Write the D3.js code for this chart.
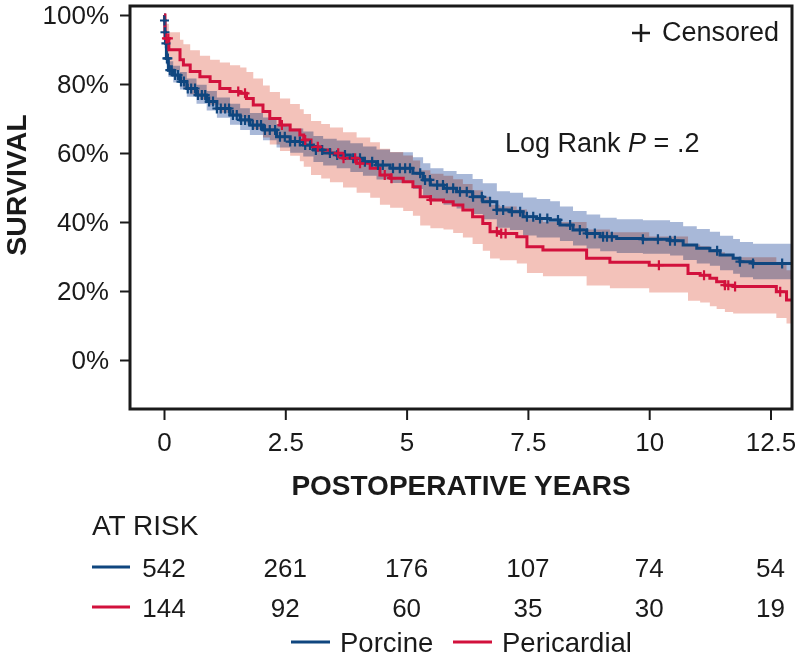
<!DOCTYPE html>
<html><head><meta charset="utf-8">
<script src="https://cdn.jsdelivr.net/npm/d3@7"></script>
<style>
html,body{margin:0;padding:0;background:#fff;}
svg{display:block;font-family:"Liberation Sans", Arial, Helvetica, sans-serif;}
</style></head><body>
<svg id="chart" width="795" height="660"></svg>
<script>
// ---------- DATA ----------
const xTicks = [0, 2.5, 5, 7.5, 10, 12.5];
const yTicks = [0, 20, 40, 60, 80, 100];
const seriesNames = ["Porcine", "Pericardial"];
const followUpEnd = 13.0;

const porcineTime  = [0, 0.01, 0.02, 0.03, 0.05, 0.09, 0.19, 0.33, 0.47, 0.67, 0.88, 1.09, 1.36, 1.57, 1.77, 2.04, 2.32, 2.6, 2.87, 3.08, 3.28, 3.56, 3.84, 4.1, 4.38, 4.66, 5.13, 5.34, 5.49, 5.76, 6.03, 6.36, 6.57, 6.86, 7.13, 7.4, 7.68, 7.96, 8.16, 8.43, 8.71, 8.99, 9.33, 9.87, 10.43, 10.7, 10.98, 11.25, 11.46, 11.73, 11.87, 12.14];
const porcineSurv  = [100, 98.4, 95, 91.8, 87.4, 84, 82.6, 80.7, 78.7, 76.8, 74.9, 72.9, 71, 69.6, 68.1, 66.7, 64.7, 63.3, 62.3, 60.9, 60, 59.4, 58.5, 57.5, 56.5, 55.6, 54.1, 52.2, 50.7, 49.8, 48.8, 47.3, 45.9, 43.5, 43, 41.5, 41, 40.6, 39.1, 37.7, 36.7, 35.7, 35.2, 35, 34.6, 33.3, 32.4, 31.7, 30.4, 29.5, 28.5, 28];
const porcineLower = [100, 97.4, 93.6, 90.2, 85.6, 82, 80.4, 78.4, 76.3, 74.3, 72.3, 70.2, 68.2, 66.7, 65.2, 63.7, 61.6, 60.1, 59, 57.4, 56.4, 55.6, 54.5, 53.4, 52.3, 51.3, 49.6, 47.6, 46, 45, 43.9, 42.3, 40.8, 38.3, 37.7, 36.1, 35.5, 35.5, 34.5, 33.2, 32.3, 31.5, 31, 30.8, 30.3, 29, 28, 27.3, 26, 25, 24, 23.4];
const porcineUpper = [100, 99.5, 96.6, 93.8, 89.7, 86.6, 85.3, 83.5, 81.6, 79.8, 78, 76.1, 74.3, 73, 71.6, 70.3, 68.4, 67.1, 66.2, 64.9, 64.1, 63.6, 62.8, 61.9, 61, 60.2, 58.8, 57, 55.6, 54.8, 53.9, 52.5, 51.2, 48.9, 48.5, 47.1, 46.7, 46, 44.5, 43.2, 42.2, 41.2, 40.8, 40.5, 40, 38.8, 38, 37.2, 36, 35.1, 34.2, 33.7];
const porcineCensor = [0.01, 0.02, 0.04, 0.06, 0.08, 0.12, 0.16, 0.23, 0.29, 0.35, 0.41, 0.49, 0.56, 0.64, 0.70, 0.78, 0.85, 0.93, 1.01, 1.09, 1.17, 1.26, 1.34, 1.42, 1.50, 1.59, 1.67, 1.75, 1.83, 1.92, 2.00, 2.08, 2.18, 2.29, 2.39, 2.49, 2.60, 2.70, 2.80, 2.91, 3.01, 3.13, 3.26, 3.42, 3.57, 3.73, 3.90, 4.04, 4.14, 4.29, 4.41, 4.51, 4.72, 4.86, 4.97, 5.07, 5.28, 5.38, 5.48, 5.63, 5.75, 5.83, 5.96, 6.10, 6.24, 6.37, 6.55, 6.72, 6.86, 6.99, 7.17, 7.34, 7.48, 7.61, 7.75, 7.90, 8.12, 8.37, 8.57, 8.72, 8.88, 9.05, 9.13, 9.23, 9.87, 10.18, 10.43, 10.53, 11.40, 11.87, 12.14, 12.74];

const pericardialTime  = [0, 0.02, 0.1, 0.33, 0.4, 0.54, 0.74, 0.95, 1.15, 1.36, 1.57, 1.7, 1.84, 2.04, 2.18, 2.39, 2.6, 2.8, 2.88, 3.03, 3.24, 3.42, 3.69, 3.97, 4.25, 4.45, 4.66, 4.93, 5.13, 5.28, 5.49, 5.76, 5.96, 6.16, 6.36, 6.57, 6.72, 6.92, 7.27, 7.48, 7.81, 8.71, 9.19, 10.0, 10.8, 11.05, 11.25, 11.39, 11.56, 11.73, 12.62, 12.83];
const pericardialSurv  = [100, 93.2, 89.9, 87, 85.5, 83.6, 82.1, 80.7, 78.7, 77.8, 77.3, 75.8, 73.9, 72, 70, 68.1, 66.7, 65.2, 63.8, 61.8, 60.9, 59.9, 58.5, 57, 55.6, 53.6, 52.7, 51.7, 50.2, 47.3, 46.4, 45.9, 44.9, 43.5, 41.5, 39.6, 37.2, 36.7, 35.7, 32.8, 31.9, 29.5, 28.3, 27.5, 25.1, 24.6, 23.7, 22.7, 21.7, 21.3, 19.8, 17.4];
const pericardialLower = [100, 87.5, 84, 80.5, 79, 77, 75.5, 74, 71.7, 70.8, 70.3, 68.8, 66.8, 64.5, 62.5, 60.6, 59.2, 57.6, 56, 53.6, 52.6, 51.5, 50, 48.5, 47, 45, 44.1, 43.2, 41.8, 39, 38.2, 37.8, 36.8, 35.5, 33.6, 31.7, 29.4, 28.9, 28, 25.2, 24.3, 21.6, 20.8, 19.6, 17.2, 16.7, 15.6, 14.8, 13.9, 13.5, 12.2, 10.6];
const pericardialUpper = [100, 97.5, 95, 92.8, 91.5, 89.8, 88.2, 87, 86.2, 85.4, 84.8, 83.5, 81.6, 79.6, 77.7, 75.8, 74.2, 72.7, 71.3, 69.3, 68.4, 67.4, 66, 64.5, 63.1, 61.2, 60.3, 59.3, 57.8, 55, 54, 53.4, 52.4, 51, 49.2, 47.3, 45, 44.5, 43.6, 40.8, 40, 37.8, 37, 35.8, 33.5, 33, 32.2, 31.2, 30.2, 29.8, 28.3, 26];
const pericardialCensor = [0.05, 0.09, 1.53, 1.67, 2.43, 2.91, 3.17, 3.59, 3.70, 3.94, 4.04, 4.55, 4.69, 5.50, 6.86, 6.95, 7.04, 10.20, 11.13, 11.56, 11.63, 11.77, 12.70];

const atRiskPorcine     = [542, 261, 176, 107, 74, 54];
const atRiskPericardial = [144, 92, 60, 35, 30, 19];

// ---------- STYLE ----------
const colors = {Porcine: "#0f467f", Pericardial: "#d2113c"};
const bandColors = {Porcine: "#a8b8d8", Pericardial: "#f3c2ba"};
const ink = "#1a1a1a";

const svg = d3.select("#chart");
const frame = {left: 130, right: 792, top: 6, bottom: 409};
const x = d3.scaleLinear().domain([0, 12.5]).range([164, 770.5]);
const y = d3.scaleLinear().domain([0, 100]).range([360, 15]);

svg.append("defs").append("clipPath").attr("id", "clip")
  .append("rect").attr("x", frame.left).attr("y", frame.top)
  .attr("width", frame.right - frame.left).attr("height", frame.bottom - frame.top);

function makePts(time, surv, lo, hi) {
  const pts = time.map((t, i) => ({t: t, s: surv[i], lo: lo[i], hi: hi[i]}));
  const last = pts[pts.length - 1];
  pts.push({t: followUpEnd, s: last.s, lo: last.lo, hi: last.hi});
  return pts;
}
function survAt(time, surv, t) {
  let v = surv[0];
  for (let i = 0; i < time.length; i++) { if (time[i] <= t) v = surv[i]; }
  return v;
}

const series = [
  {name: "Porcine", pts: makePts(porcineTime, porcineSurv, porcineLower, porcineUpper), time: porcineTime, surv: porcineSurv, censor: porcineCensor},
  {name: "Pericardial", pts: makePts(pericardialTime, pericardialSurv, pericardialLower, pericardialUpper), time: pericardialTime, surv: pericardialSurv, censor: pericardialCensor}
];

const plot = svg.append("g").attr("clip-path", "url(#clip)");
const area = d3.area().curve(d3.curveStepAfter).x(d => x(d.t)).y0(d => y(d.lo)).y1(d => y(d.hi));
const line = d3.line().curve(d3.curveStepAfter).x(d => x(d.t)).y(d => y(d.s));

const bands = plot.append("g").style("isolation", "isolate");
series.forEach(s => {
  bands.append("path").attr("d", area(s.pts)).attr("fill", bandColors[s.name])
    .style("mix-blend-mode", "multiply");
});
series.forEach(s => {
  plot.append("path").attr("d", line(s.pts)).attr("fill", "none")
    .attr("stroke", colors[s.name]).attr("stroke-width", 3);
});
series.forEach(s => {
  plot.append("g").selectAll("path").data(s.censor).join("path")
    .attr("transform", t => `translate(${x(t)},${y(survAt(s.time, s.surv, t))})`)
    .attr("d", "M-4.5,0H4.5M0,-5V5")
    .attr("stroke", colors[s.name]).attr("stroke-width", 2.2).attr("fill", "none");
});

// frame
svg.append("rect").attr("x", frame.left).attr("y", frame.top)
  .attr("width", frame.right - frame.left).attr("height", frame.bottom - frame.top)
  .attr("fill", "none").attr("stroke", ink).attr("stroke-width", 3);

// axes
const xAxis = svg.append("g").attr("transform", `translate(0,${frame.bottom})`)
  .call(d3.axisBottom(x).tickValues(xTicks).tickSize(11).tickFormat(d => String(d)));
xAxis.select(".domain").remove();
xAxis.selectAll(".tick line").attr("stroke", ink).attr("stroke-width", 2);
xAxis.selectAll(".tick text").attr("y", 42).attr("dy", null)
  .attr("font-size", 26).attr("fill", ink).attr("font-family", null);

const yAxis = svg.append("g").attr("transform", `translate(${frame.left},0)`)
  .call(d3.axisLeft(y).tickValues(yTicks).tickSize(10).tickPadding(11).tickFormat(d => d + "%"));
yAxis.select(".domain").remove();
yAxis.selectAll(".tick line").attr("stroke", ink).attr("stroke-width", 2);
yAxis.selectAll(".tick text").attr("font-size", 26).attr("fill", ink).attr("font-family", null);

// axis titles
svg.append("text").attr("x", 461).attr("y", 495).attr("text-anchor", "middle")
  .attr("font-size", 28).attr("font-weight", "bold").attr("fill", ink).text("POSTOPERATIVE YEARS");
svg.append("text").attr("transform", "translate(26,185) rotate(-90)").attr("text-anchor", "middle")
  .attr("font-size", 28.5).attr("font-weight", "bold").attr("fill", ink).text("SURVIVAL");

// annotations
svg.append("path").attr("d", "M632,33H650M641,24V42").attr("stroke", ink).attr("stroke-width", 2.5);
svg.append("text").attr("x", 662).attr("y", 41).attr("font-size", 27).attr("fill", ink).text("Censored");
const lr = svg.append("text").attr("x", 505).attr("y", 152).attr("font-size", 27).attr("fill", ink);
lr.append("tspan").text("Log Rank ");
lr.append("tspan").attr("font-style", "italic").text("P");
lr.append("tspan").text(" = .2");

// at risk table
svg.append("text").attr("x", 92).attr("y", 535).attr("font-size", 28).attr("fill", ink).text("AT RISK");
const rows = [
  {name: "Porcine", vals: atRiskPorcine, yb: 577},
  {name: "Pericardial", vals: atRiskPericardial, yb: 617}
];
rows.forEach(r => {
  svg.append("line").attr("x1", 92).attr("x2", 130).attr("y1", r.yb - 10).attr("y2", r.yb - 10)
    .attr("stroke", colors[r.name]).attr("stroke-width", 3);
  svg.append("g").selectAll("text").data(r.vals).join("text")
    .attr("x", (d, i) => x(xTicks[i])).attr("y", r.yb).attr("text-anchor", "middle")
    .attr("font-size", 26).attr("fill", ink).text(d => d);
});

// legend
const legendPos = [{lx: 291, tx: 340}, {lx: 453, tx: 502}];
seriesNames.forEach((n, i) => {
  const p = legendPos[i];
  svg.append("line").attr("x1", p.lx).attr("x2", p.lx + 39).attr("y1", 642).attr("y2", 642)
    .attr("stroke", colors[n]).attr("stroke-width", 3);
  svg.append("text").attr("x", p.tx).attr("y", 652).attr("font-size", 27.5).attr("fill", ink).text(n);
});
</script></body></html>
